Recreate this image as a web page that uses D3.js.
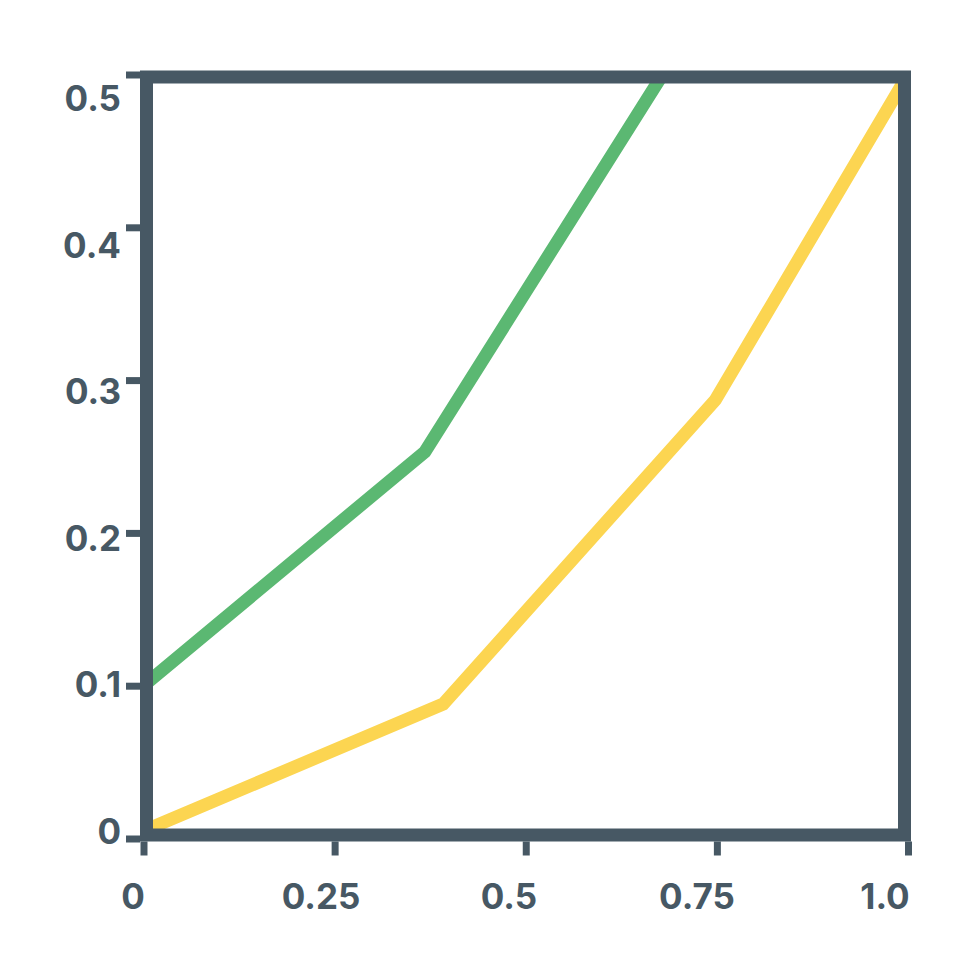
<!DOCTYPE html>
<html>
<head>
<meta charset="utf-8">
<script src="https://cdn.jsdelivr.net/npm/d3@7"></script>
<style>
  body { margin: 0; background: #fff; }
  svg { display: block; }
</style>
</head>
<body>
<div id="chart"></div>
<script>
// data
var xTicks = [0, 0.25, 0.5, 0.75, 1.0];
var xTickLabels = ["0", "0.25", "0.5", "0.75", "1.0"];
var yTicks = [0, 0.1, 0.2, 0.3, 0.4, 0.5];
var yTickLabels = ["0", "0.1", "0.2", "0.3", "0.4", "0.5"];

var greenX = [0, 0.368, 0.679];
var greenY = [0.1, 0.253, 0.5];
var yellowX = [0, 0.392, 0.748, 1.0];
var yellowY = [0.005, 0.088, 0.287, 0.5];

var W = 980, H = 980;
var ink = "#475864";

var svg = d3.select("#chart").append("svg")
  .attr("width", W).attr("height", H);

var x = d3.scaleLinear().domain([0, 1]).range([143.5, 908]);
var y = d3.scaleLinear().domain([0, 0.5]).range([838.5, 74.5]);

// label positions sit a bit inside the tick positions in the original
var xLab = d3.scaleLinear().domain([0, 1]).range([133, 885]);
var yLab = d3.scaleLinear().domain([0, 0.5]).range([831, 98]);

// plot frame box
var box = {left: x(0) + 3, right: x(1) - 3.5, top: y(0.5) + 2.5, bottom: y(0) - 3.5};
var sw = 13;

svg.append("clipPath").attr("id", "inner")
  .append("rect")
  .attr("x", box.left).attr("y", box.top)
  .attr("width", box.right - box.left).attr("height", box.bottom - box.top);

var line = d3.line()
  .x(function(d){ return x(d[0]); })
  .y(function(d){ return y(d[1]); });

var series = [
  {color: "#5bb872", pts: d3.zip(greenX, greenY)},
  {color: "#fcd551", pts: d3.zip(yellowX, yellowY)}
];

svg.append("g").attr("clip-path", "url(#inner)")
  .selectAll("path").data(series).enter().append("path")
  .attr("d", function(d){ return line(d.pts); })
  .attr("fill", "none")
  .attr("stroke", function(d){ return d.color; })
  .attr("stroke-width", 13)
  .attr("stroke-linejoin", "miter");

// frame
svg.append("rect")
  .attr("x", box.left).attr("y", box.top)
  .attr("width", box.right - box.left).attr("height", box.bottom - box.top)
  .attr("fill", "none")
  .attr("stroke", ink)
  .attr("stroke-width", sw);

// ticks
var yAxis = svg.append("g")
  .attr("transform", "translate(" + (box.left - sw / 2) + ",0)")
  .call(d3.axisLeft(y).tickValues(yTicks).tickSize(14).tickFormat(""));
var xAxis = svg.append("g")
  .attr("transform", "translate(0," + (box.bottom + sw / 2) + ")")
  .call(d3.axisBottom(x).tickValues(xTicks).tickSize(14).tickFormat(""));
[yAxis, xAxis].forEach(function(a){
  a.select(".domain").remove();
  a.selectAll(".tick line").attr("stroke", ink).attr("stroke-width", 7);
});

// labels
var font = "Inter, 'DejaVu Sans', sans-serif";
svg.append("g").selectAll("text").data(yTicks).enter().append("text")
  .attr("x", 121)
  .attr("y", function(d){ return yLab(d); })
  .attr("text-anchor", "end")
  .attr("dominant-baseline", "central")
  .attr("font-family", font).attr("font-weight", 700).attr("font-size", 35)
  .attr("fill", ink)
  .text(function(d, i){ return yTickLabels[i]; });

svg.append("g").selectAll("text").data(xTicks).enter().append("text")
  .attr("x", function(d){ return xLab(d); })
  .attr("y", 896)
  .attr("text-anchor", "middle")
  .attr("dominant-baseline", "central")
  .attr("font-family", font).attr("font-weight", 700).attr("font-size", 35)
  .attr("fill", ink)
  .text(function(d, i){ return xTickLabels[i]; });
</script>
</body>
</html>
